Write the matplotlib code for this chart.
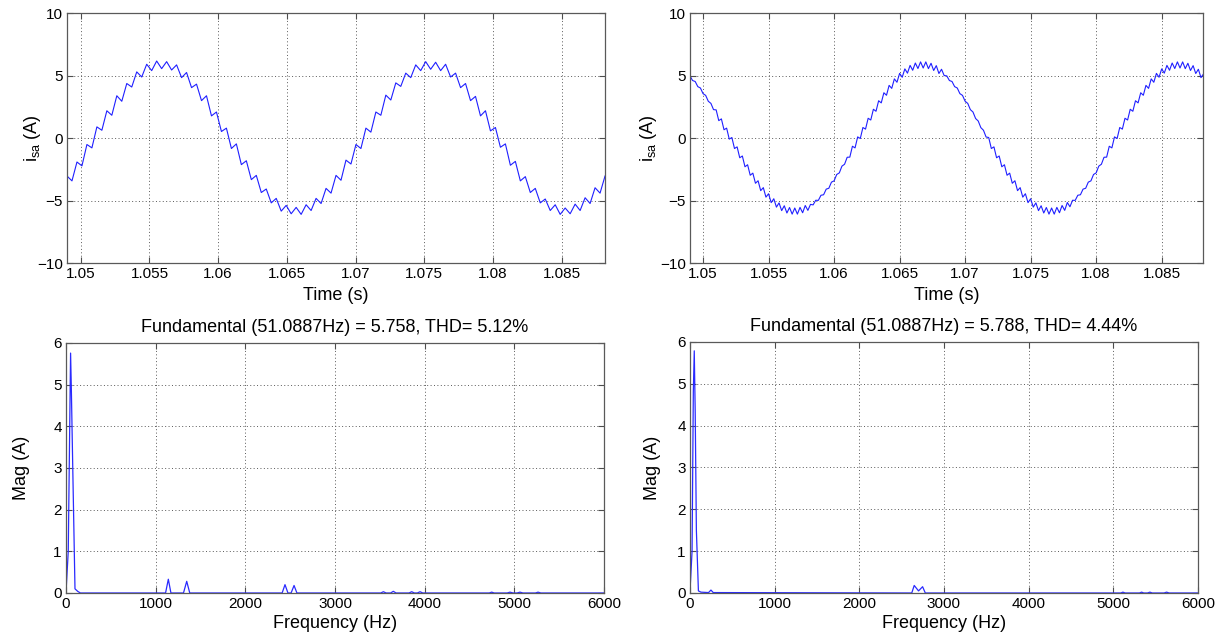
import numpy as np
import matplotlib
matplotlib.use("Agg")
import matplotlib.pyplot as plt

plt.rcParams['font.family'] = ['Liberation Sans', 'DejaVu Sans']
plt.rcParams['mathtext.default'] = 'regular'

# stator current samples (A)
t0 = 1.049
dt_left = 0.0003625
dt_right = 0.0002

i_left = [-3.04, -3.43, -1.92, -2.23, -0.52, -0.79, 0.89, 0.62, 2.18, 1.82,
          3.38, 2.94, 4.36, 4.08, 5.29, 4.88, 5.90, 5.39, 6.16, 5.55,
          6.11, 5.44, 5.85, 4.83, 5.24, 4.03, 4.31, 2.99, 3.38, 1.77,
          2.08, 0.52, 0.79, -0.84, -0.47, -2.13, -1.82, -3.33, -2.99, -4.36,
          -4.08, -5.19, -4.83, -5.85, -5.39, -6.06, -5.55, -6.11, -5.34, -5.80,
          -4.83, -5.24, -4.03, -4.41, -2.99, -3.38, -1.77, -2.08, -0.52, -0.84,
          0.79, 0.47, 2.08, 1.82, 3.43, 3.04, 4.41, 4.13, 5.19, 4.83,
          5.85, 5.39, 6.11, 5.50, 6.06, 5.39, 5.90, 4.88, 5.19, 4.03,
          4.36, 2.99, 3.33, 1.77, 2.18, 0.57, 0.84, -0.74, -0.47, -2.18,
          -1.87, -3.43, -3.09, -4.36, -4.03, -5.19, -4.88, -5.80, -5.34, -6.11,
          -5.60, -6.06, -5.29, -5.80, -4.78, -5.24, -3.98, -4.41, -3.04]

i_right = [4.97, 4.60, 4.52, 4.11, 4.00, 3.55, 3.41, 2.94, 2.77, 2.27,
           2.25, 1.39, 1.53, 0.66, 0.79, -0.09, 0.04, -0.84, -0.71, -1.58,
           -1.44, -2.30, -2.14, -2.98, -2.81, -3.62, -3.42, -4.21, -3.97, -4.73,
           -4.46, -5.17, -4.86, -5.53, -5.19, -5.81, -5.42, -6.00, -5.56, -6.09,
           -5.60, -6.09, -5.55, -5.98, -5.40, -5.79, -5.31, -5.35, -4.98, -4.99,
           -4.58, -4.54, -4.09, -4.02, -3.53, -3.43, -2.92, -2.79, -2.25, -2.10,
           -1.54, -1.53, -0.66, -0.79, 0.09, -0.04, 0.84, 0.71, 1.58, 1.44,
           2.30, 2.14, 2.98, 2.81, 3.62, 3.42, 4.21, 3.97, 4.73, 4.46,
           5.17, 4.86, 5.53, 5.19, 5.81, 5.42, 6.00, 5.56, 6.09, 5.60,
           6.09, 5.55, 5.98, 5.40, 5.79, 5.16, 5.50, 5.00, 4.97, 4.60,
           4.52, 4.11, 4.00, 3.55, 3.41, 2.94, 2.77, 2.27, 2.08, 1.56,
           1.36, 0.83, 0.62, 0.08, 0.04, -0.84, -0.71, -1.58, -1.44, -2.30,
           -2.14, -2.98, -2.81, -3.62, -3.42, -4.21, -3.97, -4.73, -4.46, -5.17,
           -4.86, -5.53, -5.19, -5.81, -5.42, -6.00, -5.56, -6.09, -5.60, -6.09,
           -5.55, -5.98, -5.40, -5.79, -5.16, -5.50, -4.98, -4.99, -4.58, -4.54,
           -4.09, -4.02, -3.53, -3.43, -2.92, -2.79, -2.25, -2.10, -1.54, -1.53,
           -0.66, -0.79, 0.09, -0.04, 0.84, 0.71, 1.58, 1.44, 2.30, 2.14,
           2.98, 2.81, 3.62, 3.42, 4.21, 3.97, 4.73, 4.46, 5.17, 4.86,
           5.53, 5.19, 5.81, 5.42, 6.00, 5.56, 6.09, 5.60, 6.09, 5.55,
           5.98, 5.40, 5.79, 5.16, 5.50, 4.83, 5.14]

# FFT spectra (Hz, A)
f_left = [0, 25, 51, 60, 76, 100, 130, 160,
          1110, 1141, 1170, 1310, 1346, 1380,
          2410, 2442, 2475, 2510, 2543, 2575,
          3510, 3539, 3570, 3620, 3650, 3680, 3825, 3855, 3885, 3918, 3948, 3978,
          4720, 4747, 4775, 4920, 4951, 4985, 5030, 5063, 5095, 5235, 5264, 5295, 6000]
m_left = [0.02, 1.0, 5.758, 4.83, 2.91, 0.10, 0.04, 0.0,
          0.0, 0.33, 0.0, 0.0, 0.28, 0.0,
          0.0, 0.20, 0.0, 0.0, 0.18, 0.0,
          0.0, 0.03, 0.0, 0.0, 0.04, 0.0, 0.0, 0.03, 0.0, 0.0, 0.03, 0.0,
          0.0, 0.02, 0.0, 0.0, 0.02, 0.0, 0.0, 0.02, 0.0, 0.0, 0.02, 0.0, 0.0]

f_right = [0, 25, 40, 51, 62, 76, 100, 130, 220, 248, 275,
           2620, 2649, 2700, 2748, 2780,
           5090, 5114, 5140, 5310, 5335, 5360, 5405, 5433, 5460, 5600, 5630, 5660, 6000]
m_right = [0.02, 1.0, 4.81, 5.788, 4.35, 1.5, 0.05, 0.02, 0.01, 0.07, 0.01,
           0.0, 0.18, 0.05, 0.15, 0.0,
           0.0, 0.02, 0.0, 0.0, 0.02, 0.0, 0.0, 0.02, 0.0, 0.0, 0.02, 0.0, 0.0]

titles = ['Fundamental (51.0887Hz) = 5.758, THD= 5.12%',
          'Fundamental (51.0887Hz) = 5.788, THD= 4.44%']

t_left = t0 + dt_left * np.arange(len(i_left))
t_right = t0 + dt_right * np.arange(len(i_right))

fig = plt.figure(figsize=(12.27, 6.41), dpi=100)
ax_tl = fig.add_axes([0.0546, 0.5897, 0.4385, 0.390])
ax_tr = fig.add_axes([0.5623, 0.5897, 0.4181, 0.390])
ax_bl = fig.add_axes([0.0538, 0.0749, 0.4385, 0.390])
ax_br = fig.add_axes([0.5623, 0.0749, 0.4140, 0.3916])


def style(ax):
    ax.grid(True, linestyle=(0, (1, 2.5)), color='0.35', linewidth=0.7)
    ax.tick_params(direction='in', top=True, right=True, length=4,
                   labelsize=11, color='0.3', pad=3)
    for s in ax.spines.values():
        s.set_color('0.35')
        s.set_linewidth(0.9)


for ax, t, i, lp in [(ax_tl, t_left, i_left, -4), (ax_tr, t_right, i_right, 1)]:
    ax.plot(t, i, color='#1f1fff', linewidth=0.8)
    ax.set_xlim(1.049, 1.08815)
    ax.set_ylim(-10, 10)
    ax.set_xticks([1.05, 1.055, 1.06, 1.065, 1.07, 1.075, 1.08, 1.085])
    ax.set_xticklabels(['1.05', '1.055', '1.06', '1.065', '1.07', '1.075', '1.08', '1.085'])
    ax.set_yticks([-10, -5, 0, 5, 10])
    ax.set_xlabel('Time (s)', fontsize=13, labelpad=4)
    ax.set_ylabel('i$_{sa}$ (A)', fontsize=13, labelpad=lp)
    style(ax)

for ax, f, m, ttl, lp in [(ax_bl, f_left, m_left, titles[0], 17),
                          (ax_br, f_right, m_right, titles[1], 12)]:
    ax.plot(f, m, color='#2a2aff', linewidth=0.9)
    ax.set_xlim(0, 6000)
    ax.set_ylim(0, 6)
    ax.set_xticks([0, 1000, 2000, 3000, 4000, 5000, 6000])
    ax.set_yticks([0, 1, 2, 3, 4, 5, 6])
    ax.set_xlabel('Frequency (Hz)', fontsize=13, labelpad=3)
    ax.set_ylabel('Mag (A)', fontsize=13, labelpad=lp)
    ax.set_title(ttl, fontsize=13, pad=8)
    style(ax)

fig.savefig('out.png', dpi=100)
